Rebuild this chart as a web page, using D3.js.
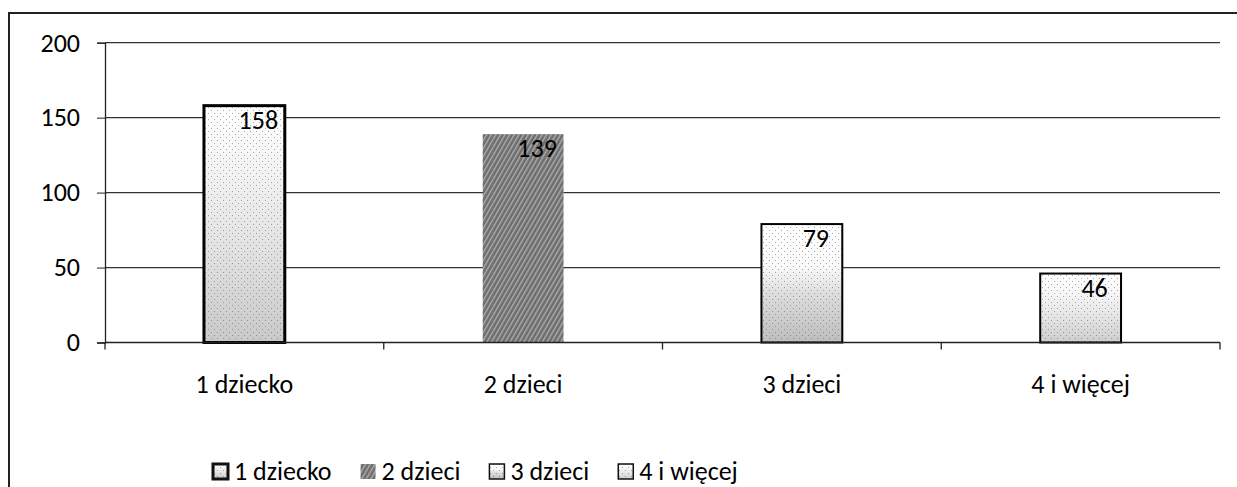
<!DOCTYPE html>
<html>
<head>
<meta charset="utf-8">
<script src="https://cdn.jsdelivr.net/npm/d3@7"></script>
<style>
  html, body { margin: 0; padding: 0; background: #fff; }
  svg text { font-family: Carlito, Lato, "Open Sans", sans-serif; fill: #000; }
</style>
</head>
<body>
<svg id="chart" width="1237" height="487"></svg>
<script>
const categories = ["1 dziecko", "2 dzieci", "3 dzieci", "4 i więcej"];
const values = [158, 139, 79, 46];
const yTicks = [0, 50, 100, 150, 200];
const legendLabels = ["1 dziecko", "2 dzieci", "3 dzieci", "4 i więcej"];

const svg = d3.select("#chart");
const W = 1237, H = 487;
const plot = { left: 105, right: 1220, top: 42.7, bottom: 342.5 };
const FS = 26;

// defs: fills
const defs = svg.append("defs");
function grad(id, stops) {
  const g = defs.append("linearGradient").attr("id", id)
    .attr("x1", 0).attr("y1", 0).attr("x2", 0).attr("y2", 1);
  stops.forEach(s => g.append("stop").attr("offset", s[0]).attr("stop-color", s[1]));
}
grad("g1", [[0, "#ffffff"], [0.25, "#f4f4f4"], [0.6, "#e2e2e2"], [1, "#c9c9c9"]]);
grad("g3", [[0, "#ffffff"], [0.35, "#fafafa"], [0.6, "#dcdcdc"], [1, "#bdbdbd"]]);
grad("g4", [[0, "#ffffff"], [0.3, "#f6f6f6"], [0.7, "#e0e0e0"], [1, "#cdcdcd"]]);

// dotted texture overlay
const dots = defs.append("pattern").attr("id", "dots")
  .attr("patternUnits", "userSpaceOnUse").attr("width", 6).attr("height", 6);
dots.append("rect").attr("x", 1).attr("y", 2).attr("width", 1).attr("height", 1).attr("fill", "#555").attr("opacity", 0.5);
dots.append("rect").attr("x", 4).attr("y", 5).attr("width", 1).attr("height", 1).attr("fill", "#555").attr("opacity", 0.5);

// dark hatched texture for bar 2
const hatch = defs.append("pattern").attr("id", "hatch")
  .attr("patternUnits", "userSpaceOnUse").attr("width", 4).attr("height", 4)
  .attr("patternTransform", "rotate(30)");
hatch.append("rect").attr("width", 4).attr("height", 4).attr("fill", "#6e6e6e");
hatch.append("rect").attr("width", 1.3).attr("height", 4).attr("fill", "#b0b0b0");

const fills = ["url(#g1)", "url(#hatch)", "url(#g3)", "url(#g4)"];
const strokes = ["#000", "none", "#000", "#000"];
const strokeW = [3, 0, 2, 2];

// outer frame
svg.append("path")
  .attr("d", `M${W + 5},13 L9,13 L9,${H + 5}`)
  .attr("fill", "none").attr("stroke", "#222").attr("stroke-width", 2);

// scales
const x = d3.scaleBand().domain(categories).range([plot.left, plot.right])
  .paddingInner(0.71).paddingOuter(0.355);
const y = d3.scaleLinear().domain([0, 200]).range([plot.bottom, plot.top]);

// gridlines
svg.append("g").selectAll("line").data(yTicks.filter(t => t > 0)).join("line")
  .attr("x1", plot.left).attr("x2", plot.right)
  .attr("y1", d => y(d)).attr("y2", d => y(d))
  .attr("stroke", "#333").attr("stroke-width", 1.2);

// y axis
const yAxis = svg.append("g").attr("transform", `translate(${plot.left},0)`)
  .call(d3.axisLeft(y).tickValues(yTicks).tickSize(8).tickPadding(17));
yAxis.select(".domain").attr("stroke", "#222").attr("stroke-width", 1.3);
yAxis.selectAll(".tick line").attr("stroke", "#222");
yAxis.selectAll("text").attr("font-size", FS).attr("fill", "#000")
  .attr("font-family", "Carlito, Lato, sans-serif");

// bars
const bars = svg.append("g");
categories.forEach((c, i) => {
  bars.append("rect")
    .attr("x", x(c)).attr("width", x.bandwidth())
    .attr("y", y(values[i])).attr("height", y(0) - y(values[i]))
    .attr("fill", fills[i]);
  if (i !== 1) {
    bars.append("rect")
      .attr("x", x(c)).attr("width", x.bandwidth())
      .attr("y", y(values[i])).attr("height", y(0) - y(values[i]))
      .attr("fill", "url(#dots)");
  }
  bars.append("rect")
    .attr("x", x(c)).attr("width", x.bandwidth())
    .attr("y", y(values[i])).attr("height", y(0) - y(values[i]))
    .attr("fill", "none").attr("stroke", strokes[i]).attr("stroke-width", strokeW[i]);
});

// x axis
const step = x.step();
const boundaries = categories.map(c => x(c) - (step - x.bandwidth()) / 2);
boundaries.push(plot.right);
svg.append("line").attr("x1", plot.left).attr("x2", plot.right)
  .attr("y1", y(0)).attr("y2", y(0)).attr("stroke", "#222").attr("stroke-width", 1.3);
svg.append("g").selectAll("line").data(boundaries).join("line")
  .attr("x1", d => d).attr("x2", d => d)
  .attr("y1", y(0)).attr("y2", y(0) + 7)
  .attr("stroke", "#222").attr("stroke-width", 1.3);
svg.append("g").selectAll("text").data(categories).join("text")
  .attr("x", d => x(d) + x.bandwidth() / 2).attr("y", 393)
  .attr("text-anchor", "middle").attr("font-size", FS).text(d => d);

// data labels
svg.append("g").selectAll("text").data(values).join("text")
  .attr("x", (d, i) => x(categories[i]) + x.bandwidth() / 2 + 14)
  .attr("y", d => y(d) + 23)
  .attr("text-anchor", "middle").attr("font-size", FS).text(d => d);

// legend
const lg = svg.append("g");
let lx = 213;
legendLabels.forEach((lab, i) => {
  lg.append("rect").attr("x", lx).attr("y", 464).attr("width", 15).attr("height", 15)
    .attr("fill", fills[i]);
  if (i !== 1) {
    lg.append("rect").attr("x", lx).attr("y", 464).attr("width", 15).attr("height", 15)
      .attr("fill", "url(#dots)");
  }
  lg.append("rect").attr("x", lx).attr("y", 464).attr("width", 15).attr("height", 15)
    .attr("fill", "none").attr("stroke", i === 1 ? "none" : "#111")
    .attr("stroke-width", i === 0 ? 3 : 1.5);
  const t = lg.append("text").attr("x", lx + 21).attr("y", 480)
    .attr("font-size", FS).text(lab);
  lx += 21 + t.node().getComputedTextLength() + 29;
});
</script>
</body>
</html>
